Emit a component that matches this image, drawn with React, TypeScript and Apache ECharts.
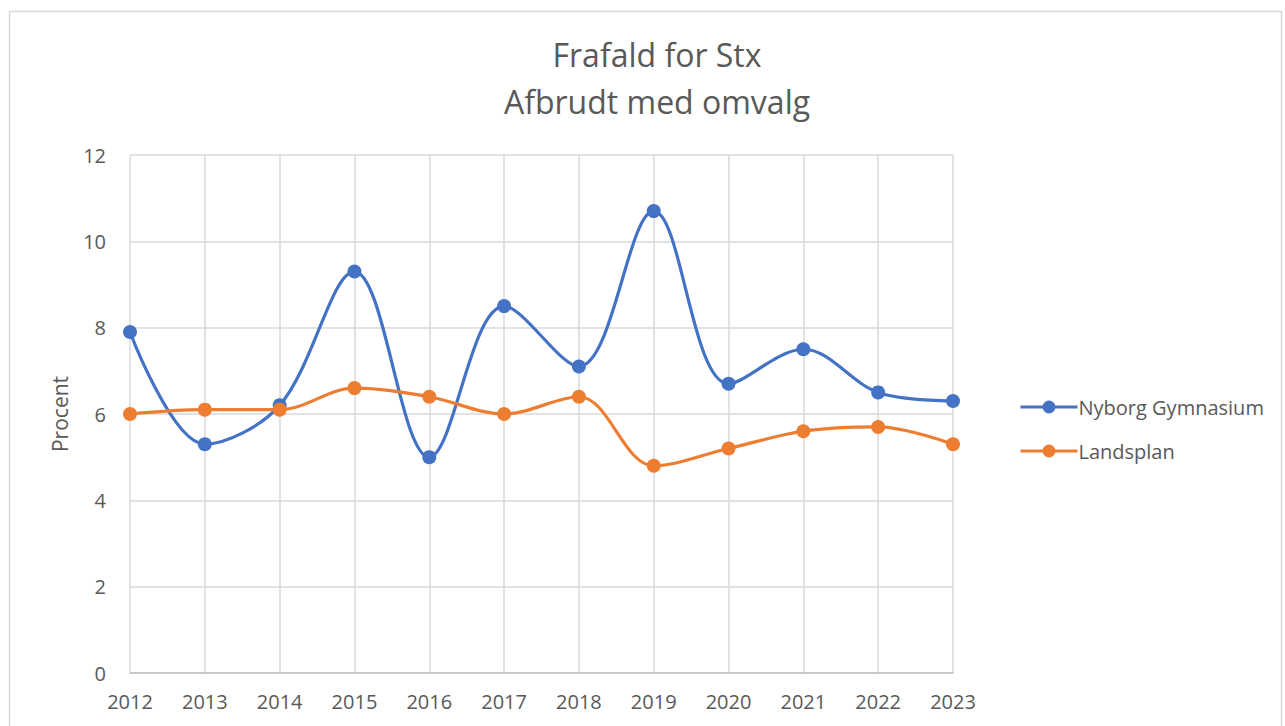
import React, { useEffect, useRef } from "react";
import * as echarts from "echarts";

const years = ["2012", "2013", "2014", "2015", "2016", "2017", "2018", "2019", "2020", "2021", "2022", "2023"];
const nyborg = [7.9, 5.3, 6.2, 9.3, 5.0, 8.5, 7.1, 10.7, 6.7, 7.5, 6.5, 6.3];
const landsplan = [6.0, 6.1, 6.1, 6.6, 6.4, 6.0, 6.4, 4.8, 5.2, 5.6, 5.7, 5.3];
const titleLines = ["Frafald for Stx", "Afbrudt med omvalg"];

const FONT = "'Open Sans', 'Liberation Sans', sans-serif";
const TXT = "#595959";

export default function App() {
  const ref = useRef<HTMLDivElement>(null);
  useEffect(() => {
    if (!ref.current) return;
    const chart = echarts.init(ref.current, undefined, { renderer: "svg" });
    chart.setOption({
      animation: false,
      backgroundColor: "#fff",
      title: {
        text: titleLines.join("\n"),
        left: 652,
        textAlign: "center",
        top: 26,
        textStyle: { fontFamily: FONT, fontSize: 32, fontWeight: "normal", color: TXT, lineHeight: 47 },
      },
      graphic: [
        {
          type: "rect",
          shape: { x: 9.5, y: 11.5, width: 1272, height: 740 },
          style: { fill: "none", stroke: "#d9d9d9", lineWidth: 1.5 },
          silent: true,
        },
      ],
      legend: {
        orient: "vertical",
        left: 1014,
        top: 392,
        itemWidth: 57,
        itemHeight: 16,
        itemGap: 24,
        lineStyle: { width: 3 },
        textStyle: { fontFamily: FONT, fontSize: 20, color: TXT, padding: [0, 0, 0, -4] },
        data: ["Nyborg Gymnasium", "Landsplan"],
      },
      grid: { left: 130, right: 332, top: 155, bottom: 53 },
      xAxis: {
        type: "category",
        data: years,
        boundaryGap: false,
        axisLine: { show: true, lineStyle: { color: "#bfbfbf", width: 1.5 } },
        axisTick: { show: false },
        axisLabel: { fontFamily: FONT, fontSize: 20, color: TXT, margin: 18 },
        splitLine: { show: true, lineStyle: { color: "#d9d9d9", width: 1.5 } },
      },
      yAxis: {
        type: "value",
        min: 0,
        max: 12,
        interval: 2,
        name: "Procent",
        nameLocation: "middle",
        nameGap: 60,
        nameTextStyle: { fontFamily: FONT, fontSize: 21, color: TXT },
        axisLine: { show: false },
        axisTick: { show: false },
        axisLabel: { fontFamily: FONT, fontSize: 20, color: TXT, margin: 24 },
        splitLine: { show: true, lineStyle: { color: "#d9d9d9", width: 1.5 } },
      },
      series: [
        {
          name: "Nyborg Gymnasium",
          type: "line",
          data: nyborg,
          smooth: 0.35,
          symbol: "circle",
          symbolSize: 14,
          color: "#4472c4",
          lineStyle: { width: 3.2, color: "#4472c4" },
          itemStyle: { color: "#4472c4" },
        },
        {
          name: "Landsplan",
          type: "line",
          data: landsplan,
          smooth: 0.35,
          symbol: "circle",
          symbolSize: 14,
          color: "#ed7d31",
          lineStyle: { width: 3.2, color: "#ed7d31" },
          itemStyle: { color: "#ed7d31" },
        },
      ],
    });
    return () => chart.dispose();
  }, []);
  return <div ref={ref} style={{ position: "absolute", left: 0, top: 0, width: 1285, height: 726 }} />;
}
